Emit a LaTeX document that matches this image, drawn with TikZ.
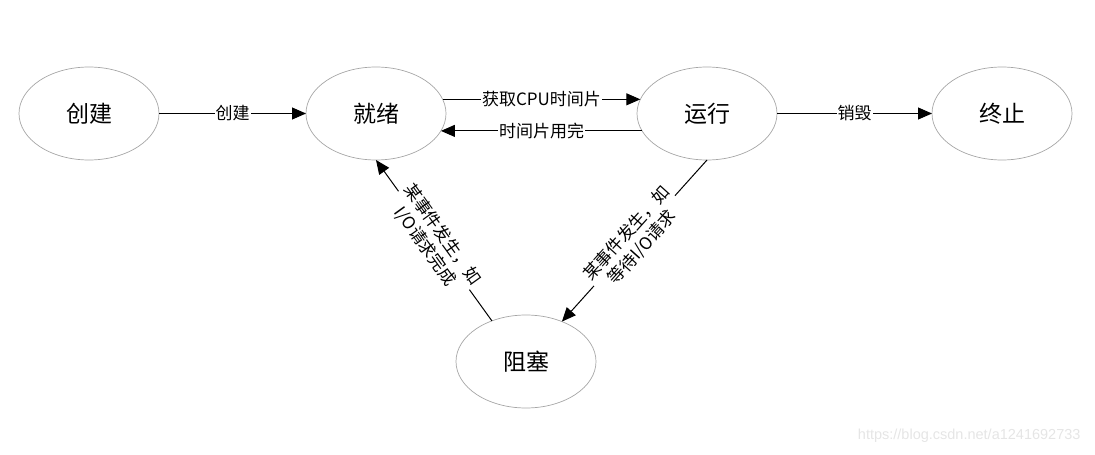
\documentclass[tikz,border=0pt]{standalone}
\usepackage{fontspec}
\setmainfont{Liberation Sans}
\newfontfamily\cjk{Noto Sans CJK SC}
\usetikzlibrary{shapes.geometric,arrows.meta}

\tikzset{
    state/.style={ellipse, draw=gray!70, line width=0.7pt, minimum width=140pt, minimum height=93pt,
        inner sep=0pt, outer sep=0pt, font=\cjk\fontsize{23}{28}\selectfont},
    flow/.style={line width=1pt, -{Triangle[length=14pt,width=12pt]}},
    lbl/.style={fill=white, inner sep=1pt, font=\cjk\fontsize{17}{21}\selectfont}
}

\begin{document}
\begin{tikzpicture}[x=1pt, y=-1pt]
    \useasboundingbox (0,0) rectangle (1095,455);

    % States
    \node[state] (chuangjian) at (89,113.5) {创建};
    \node[state] (jiuxu) at (376,113.5) {就绪};
    \node[state] (yunxing) at (707,113.5) {运行};
    \node[state] (zhongzhi) at (1002,113.5) {终止};
    \node[state] (zuse) at (526,361.5) {阻塞};

    % Transitions along the top
    \draw[flow] (chuangjian) -- node[lbl] {创建} (jiuxu);
    \draw[flow] (jiuxu.12) -- node[lbl] {获取CPU时间片} (yunxing.168);
    \draw[flow] (yunxing.195) -- node[lbl] {时间片用完} (jiuxu.-15);
    \draw[flow] (yunxing) -- node[lbl] {销毁} (zhongzhi);

    % Blocking and waking up
    \draw[flow] (yunxing.south) -- node[lbl, sloped, align=center] {某事件发生，如\\等待I/O请求} (zuse.48);
    \draw[flow] (zuse.130) -- node[lbl, sloped, align=center] {某事件发生，如\\I/O请求完成} (jiuxu.south);

    % Watermark
    \node[text=gray!20, font=\fontsize{14.5}{17}\selectfont, anchor=east] (wm) at (1084,436) {https://blog.csdn.net/a1241692733};
\end{tikzpicture}
\end{document}
